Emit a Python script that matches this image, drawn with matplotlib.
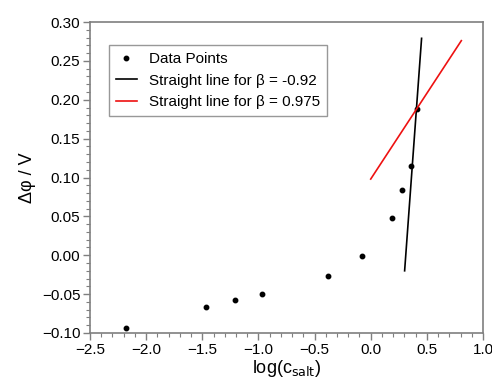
import matplotlib
matplotlib.use('Agg')
import matplotlib.pyplot as plt
from matplotlib.ticker import MultipleLocator

plt.rcParams['font.family'] = ['Liberation Sans', 'DejaVu Sans']

# ── DATA ─────────────────────────────────────────────────────────────────────
log_c = [-2.18, -1.47, -1.21, -0.97, -0.38, -0.08, 0.19, 0.28, 0.355, 0.41]
dphi  = [-0.093, -0.066, -0.058, -0.050, -0.027, -0.001, 0.048, 0.084, 0.115, 0.188]

black_x = [0.302, 0.453]
black_y = [-0.020, 0.279]
red_x   = [0.0, 0.807]
red_y   = [0.098, 0.276]

GRAY = '#7f7f7f'

fig = plt.figure(figsize=(4.92, 3.83), dpi=100)
ax = fig.add_axes([90 / 492, 1 - 333 / 383, 393 / 492, 311 / 383])

ax.plot(log_c, dphi, 'o', color='black', ms=3.2, label='Data Points')
ax.plot(black_x, black_y, color='black', lw=1.2, label='Straight line for β = -0.92')
ax.plot(red_x, red_y, color='#ee1111', lw=1.2, label='Straight line for β = 0.975')

ax.set_xlim(-2.5, 1.0)
ax.set_ylim(-0.10, 0.30)
ax.xaxis.set_major_locator(MultipleLocator(0.5))
ax.xaxis.set_minor_locator(MultipleLocator(0.1))
ax.yaxis.set_major_locator(MultipleLocator(0.05))
ax.yaxis.set_minor_locator(MultipleLocator(0.01))
ax.xaxis.set_major_formatter(plt.FuncFormatter(lambda v, p: f'{v:.1f}'.replace('-', '\u2212')))
ax.yaxis.set_major_formatter(plt.FuncFormatter(lambda v, p: f'{v:.2f}'.replace('-', '\u2212')))

for s in ax.spines.values():
    s.set_color(GRAY)
    s.set_linewidth(1.2)
ax.tick_params(which='both', direction='out', color=GRAY, labelsize=11, top=False, right=False)
ax.tick_params(which='major', length=5, width=1.0, pad=2)
ax.tick_params(which='minor', length=3, width=0.8)

ax.set_xlabel('log(c$_{\\mathrm{salt}}$)', fontsize=13, labelpad=1)
ax.set_ylabel('Δφ / V', fontsize=13, labelpad=4)

leg = ax.legend(loc='upper left', bbox_to_anchor=(0.048, 0.925), fontsize=11,
                frameon=True, fancybox=False, edgecolor=GRAY, handlelength=1.4,
                borderpad=0.45, labelspacing=0.5, borderaxespad=0)
leg.get_frame().set_linewidth(1.0)

fig.savefig('out.png', dpi=100)
